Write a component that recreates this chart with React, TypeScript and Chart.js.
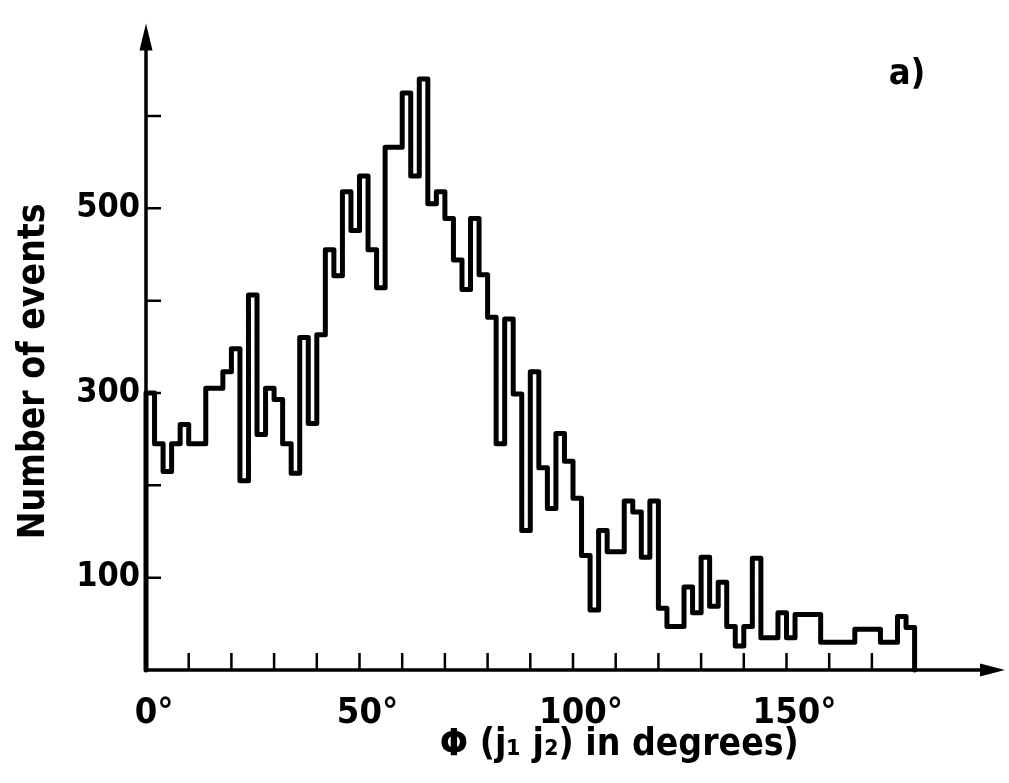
import React, { useEffect, useRef } from "react";
import { Chart, registerables } from "chart.js";

Chart.register(...registerables);

// Histogram: 2-degree bins from 0 to 180 degrees
const binLowEdges: number[] = Array.from({ length: 90 }, (_, i) => i * 2);
const binUpperEnd = 180;

const counts: number[] = [
  300, 245, 215, 245, 266, 245, 245, 305, 305, 323,
  348, 205, 406, 255, 305, 293, 245, 213, 360, 267,
  363, 455, 427, 518, 476, 535, 455, 414, 566, 566,
  625, 535, 640, 505, 518, 489, 444, 412, 489, 428,
  382, 245, 380, 299, 151, 323, 219, 175, 256, 226,
  186, 124, 65, 151, 128, 128, 183, 171, 122, 183,
  67, 47, 47, 90, 62, 122, 69, 95, 47, 26,
  47, 121, 35, 35, 62, 35, 60, 60, 60, 30,
  30, 30, 30, 44, 44, 44, 30, 30, 58, 46,
];

const xLabelValues = [0, 50, 100, 150];
const xLabelTexts = ["0°", "50°", "100°", "150°"];
const xTickMarks = [10, 20, 30, 40, 50, 60, 70, 80, 90, 100, 110, 120, 130, 140, 150, 160, 170, 180];
const yLabelValues = [100, 300, 500];
const yTickMarks = [100, 200, 300, 400, 500, 600];

const xTitle = "        Φ (j₁ j₂) in degrees)";
const yTitle = "Number of events    ";
const panelLabel = "a)";

const FONT_FAMILY = "'DejaVu Sans Condensed', 'DejaVu Sans', sans-serif";

const axesPlugin = {
  id: "arrowAxes",
  afterDraw(chart: any) {
    const { ctx, chartArea, scales } = chart;
    const xs = scales.x;
    const ys = scales.y;
    const x0 = xs.getPixelForValue(0);
    const y0 = ys.getPixelForValue(0);
    ctx.save();
    ctx.strokeStyle = "#000";
    ctx.fillStyle = "#000";
    ctx.lineCap = "butt";
    // axis lines
    ctx.lineWidth = 3.5;
    ctx.beginPath();
    ctx.moveTo(x0, y0 + 1.5);
    ctx.lineTo(x0, chartArea.top + 10);
    ctx.moveTo(x0 - 1.5, y0);
    ctx.lineTo(chartArea.right - 8, y0);
    ctx.stroke();
    // y arrow
    ctx.beginPath();
    ctx.moveTo(x0, chartArea.top - 3);
    ctx.lineTo(x0 - 6.5, chartArea.top + 24);
    ctx.lineTo(x0 + 6.5, chartArea.top + 24);
    ctx.closePath();
    ctx.fill();
    // x arrow
    ctx.beginPath();
    ctx.moveTo(chartArea.right + 5, y0);
    ctx.lineTo(chartArea.right - 20, y0 - 6.5);
    ctx.lineTo(chartArea.right - 20, y0 + 6.5);
    ctx.closePath();
    ctx.fill();
    // inward tick marks
    ctx.lineWidth = 2.5;
    ctx.beginPath();
    for (const v of xTickMarks) {
      const px = xs.getPixelForValue(v);
      ctx.moveTo(px, y0);
      ctx.lineTo(px, y0 - 17);
    }
    for (const v of yTickMarks) {
      const py = ys.getPixelForValue(v);
      ctx.moveTo(x0, py);
      ctx.lineTo(x0 + 15, py);
    }
    ctx.stroke();
    // panel label
    ctx.font = `bold 36px ${FONT_FAMILY}`;
    ctx.textAlign = "center";
    ctx.textBaseline = "middle";
    ctx.fillText(panelLabel, 907, 75);
    ctx.restore();
  },
};

export default function App() {
  const canvasRef = useRef<HTMLCanvasElement | null>(null);

  useEffect(() => {
    document.body.style.margin = "0";
    const canvas = canvasRef.current;
    if (!canvas) return;

    const points = [{ x: 0, y: 0 }, ...binLowEdges.map((x, i) => ({ x, y: counts[i] }))];
    points.push({ x: binUpperEnd, y: counts[counts.length - 1] });
    points.push({ x: binUpperEnd, y: 0 });

    const chart = new Chart(canvas, {
      type: "line",
      data: {
        datasets: [
          {
            data: points,
            borderColor: "#000",
            borderWidth: 5,
            stepped: true,
            pointRadius: 0,
            fill: false,
            borderJoinStyle: "round",
            borderCapStyle: "round",
            clip: false as any,
          },
        ],
      },
      options: {
        animation: false,
        responsive: true,
        maintainAspectRatio: false,
        layout: { padding: { left: 0, top: 20, right: 9, bottom: 0 } },
        plugins: {
          legend: { display: false },
          tooltip: { enabled: false },
        },
        scales: {
          x: {
            type: "linear",
            min: 0,
            max: 200,
            grid: { display: false, drawTicks: false },
            border: { display: false },
            afterFit: (scale: any) => {
              scale.height = 113;
            },
            afterBuildTicks: (scale: any) => {
              scale.ticks = xLabelValues.map((v) => ({ value: v }));
            },
            ticks: {
              autoSkip: false,
              maxRotation: 0,
              padding: 22,
              labelOffset: 8,
              color: "#000",
              font: { family: FONT_FAMILY, size: 36, weight: "bold" },
              callback: (v: any) => {
                const i = xLabelValues.indexOf(Number(v));
                return i >= 0 ? xLabelTexts[i] : "";
              },
            },
            title: {
              display: true,
              text: xTitle,
              color: "#000",
              font: { family: FONT_FAMILY, size: 37, weight: "bold" },
              padding: { top: 0, bottom: 15 },
            },
          },
          y: {
            type: "linear",
            min: 0,
            max: 697,
            grid: { display: false, drawTicks: false },
            border: { display: false },
            afterFit: (scale: any) => {
              scale.width = 146;
            },
            afterBuildTicks: (scale: any) => {
              scale.ticks = yLabelValues.map((v) => ({ value: v }));
            },
            ticks: {
              padding: 6,
              color: "#000",
              font: { family: FONT_FAMILY, size: 34, weight: "bold" },
              callback: (v: any) => String(v),
            },
            title: {
              display: true,
              text: yTitle,
              color: "#000",
              font: { family: FONT_FAMILY, size: 37, weight: "bold" },
              padding: { top: 12, bottom: 0 },
            },
          },
        },
      },
      plugins: [axesPlugin],
    });

    return () => chart.destroy();
  }, []);

  return (
    <div style={{ position: "relative", width: 1009, height: 783, background: "#fff" }}>
      <canvas ref={canvasRef} />
    </div>
  );
}
